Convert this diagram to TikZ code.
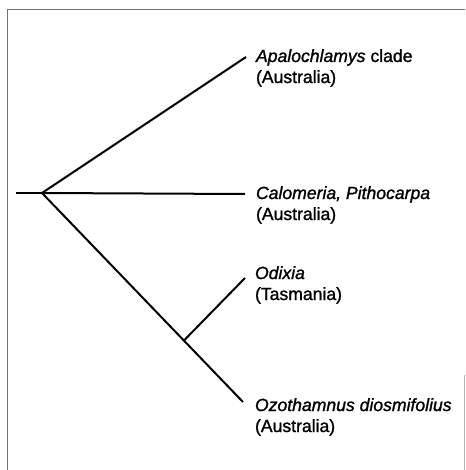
\documentclass[tikz,border=0pt]{standalone}
\usepackage{fontspec}
\setmainfont{Liberation Sans}[FakeBold=1.3]
\usetikzlibrary{positioning}

\tikzset{taxon/.style={anchor=base west,align=left,inner sep=0pt,font=\fontsize{17.6}{21}\selectfont}}

\begin{document}
\begin{tikzpicture}[x=1pt,y=-1pt,line width=2pt]
    \useasboundingbox (0,0) rectangle (465,470);
    % frame round the figure
    \draw[black!55,line width=1pt](7.5,470)--(7.5,10)--(465,10);
    \draw[black!30,line width=1pt](464,375)--(464,470);
    % tree
    \coordinate (stem) at (16,193);
    \coordinate (root) at (42,193);
    \coordinate (apa) at (246,57);
    \coordinate (cal) at (245,194);
    \coordinate (odx) at (245,278);
    \coordinate (ozo) at (243,402);
    \draw(stem)--(root);
    \draw(root)--(apa);
    \draw(root)--(cal);
    \draw(root)-- coordinate[pos=0.706] (sub) (ozo);
    \draw(sub)--(odx);
    % labels (base = last line)
    \node[taxon] (apaL) at (255,83) {\textit{Apalochlamys} clade\\(Australia)};
    \node[taxon] (calL) at (255,220) {\textit{Calomeria, Pithocarpa}\\(Australia)};
    \node[taxon] (odxL) at (254,300) {\textit{Odixia}\\(Tasmania)};
    \node[taxon] (ozoL) at (254,432) {\textit{Ozothamnus diosmifolius}\\(Australia)};
\end{tikzpicture}
\end{document}
